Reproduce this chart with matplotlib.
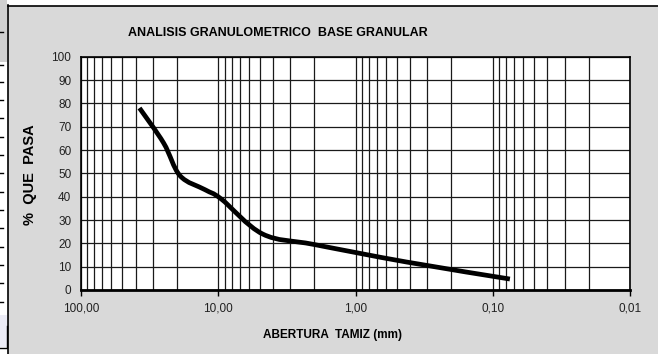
import numpy as np
import matplotlib
matplotlib.use("Agg")
import matplotlib.pyplot as plt
from matplotlib.path import Path
from matplotlib.patches import PathPatch, Rectangle
from matplotlib.lines import Line2D
from matplotlib.ticker import FixedLocator, LogLocator, NullFormatter

# granulometria (tamices ASTM) - abertura en mm y porcentaje que pasa
abertura = [37.5, 25.0, 19.0, 12.5, 9.5, 4.75, 2.0, 0.425, 0.075]
pasa = [78, 63, 49, 43, 39, 24, 19.5, 12, 4.7]

x_ticks = [100, 10, 1, 0.1, 0.01]
x_labels = ["100,00", "10,00", "1,00", "0,10", "0,01"]
y_ticks = list(range(0, 101, 10))

titulo = "ANALISIS GRANULOMETRICO  BASE GRANULAR"
eje_x = "ABERTURA  TAMIZ (mm)"
eje_y = "%  QUE  PASA"

narrow = ["Liberation Sans Narrow", "Liberation Sans", "DejaVu Sans"]
plt.rcParams["font.family"] = ["Liberation Sans", "DejaVu Sans"]

W, H = 658, 354
fig = plt.figure(figsize=(W / 100, H / 100), dpi=100)
fig.patch.set_facecolor("white")

# panel gris del grafico
fig.add_artist(Rectangle((8 / W, 0), 1 - 8 / W, 1 - 6 / H, transform=fig.transFigure,
                         facecolor="#d9d9d9", edgecolor="none", zorder=0))
fig.add_artist(Line2D([8 / W, 8 / W], [0, 1 - 5 / H], transform=fig.transFigure,
                      color="black", lw=1.2))
fig.add_artist(Line2D([8 / W, 1], [1 - 6 / H, 1 - 6 / H], transform=fig.transFigure,
                      color="black", lw=1.2))

# restos de la hoja a la izquierda
fig.add_artist(Rectangle((0, 1 - 62 / H), 7 / W, 62 / H, transform=fig.transFigure,
                         facecolor="#d0d0d0", edgecolor="none"))
for yy in [32, 65, 82, 100, 118, 137, 155, 173, 192, 210, 228, 247, 265, 283, 302]:
    fig.add_artist(Line2D([0, 3 / W], [1 - yy / H] * 2, transform=fig.transFigure,
                          color="black", lw=1))
fig.add_artist(Rectangle((0, 1 - 347 / H), 7 / W, 32 / H, transform=fig.transFigure,
                         facecolor="#ececf6", edgecolor="none"))
fig.add_artist(Line2D([6.5 / W, 6.5 / W, 0], [1 - 326 / H, 1 - 348 / H, 1 - 348 / H],
                      transform=fig.transFigure, color="black", lw=1))

ax = fig.add_axes([81 / W, 64 / H, 549 / W, 233.3 / H])
ax.set_facecolor("white")
ax.set_xscale("log")
ax.set_xlim(100, 0.01)
ax.set_ylim(0, 100)

ax.xaxis.set_major_locator(FixedLocator(x_ticks))
ax.set_xticklabels(x_labels, fontsize=8.5, family=narrow, color="#222222")
ax.xaxis.set_minor_locator(LogLocator(base=10, subs=np.arange(2, 10)))
ax.xaxis.set_minor_formatter(NullFormatter())
ax.set_yticks(y_ticks)
ax.set_yticklabels([str(v) for v in y_ticks], fontsize=8.5, family=narrow, color="#222222")

ax.tick_params(axis="x", which="major", direction="out", length=4, width=1, pad=5)
ax.tick_params(axis="x", which="minor", length=0)
ax.tick_params(axis="y", length=0, pad=7)

ax.grid(True, which="both", axis="x", color="#1a1a1a", lw=0.9)
ax.grid(True, which="major", axis="y", color="#1a1a1a", lw=0.9)
ax.set_axisbelow(True)

for s in ["top", "right", "left"]:
    ax.spines[s].set_linewidth(1.2)
    ax.spines[s].set_color("black")
ax.spines["bottom"].set_linewidth(2)

# curva suavizada (bezier tipo catmull-rom en espacio log)
u = np.log10(abertura)
v = np.array(pasa, dtype=float)
pts = np.column_stack([u, v])
verts = [pts[0]]
codes = [Path.MOVETO]
n = len(pts)
for i in range(n - 1):
    p0 = pts[max(i - 1, 0)]
    p1 = pts[i]
    p2 = pts[i + 1]
    p3 = pts[min(i + 2, n - 1)]
    c1 = p1 + (p2 - p0) / 6
    c2 = p2 - (p3 - p1) / 6
    verts += [c1, c2, p2]
    codes += [Path.CURVE4] * 3
verts = np.array(verts)
verts[:, 0] = 10 ** verts[:, 0]
ax.add_patch(PathPatch(Path(verts, codes), facecolor="none", edgecolor="black",
                       lw=3.4, capstyle="butt", joinstyle="round", zorder=3))

fig.text(278 / W, 1 - 33 / H, titulo, ha="center", va="center", fontsize=9,
         fontweight="bold", family=narrow)
fig.text(333 / W, 1 - 335 / H, eje_x, ha="center", va="center", fontsize=8.5,
         fontweight="bold", family=narrow)
fig.text(30 / W, 1 - 175 / H, eje_y, ha="center", va="center", fontsize=10.5,
         fontweight="bold", rotation=90)

fig.savefig("out.png", dpi=100)
